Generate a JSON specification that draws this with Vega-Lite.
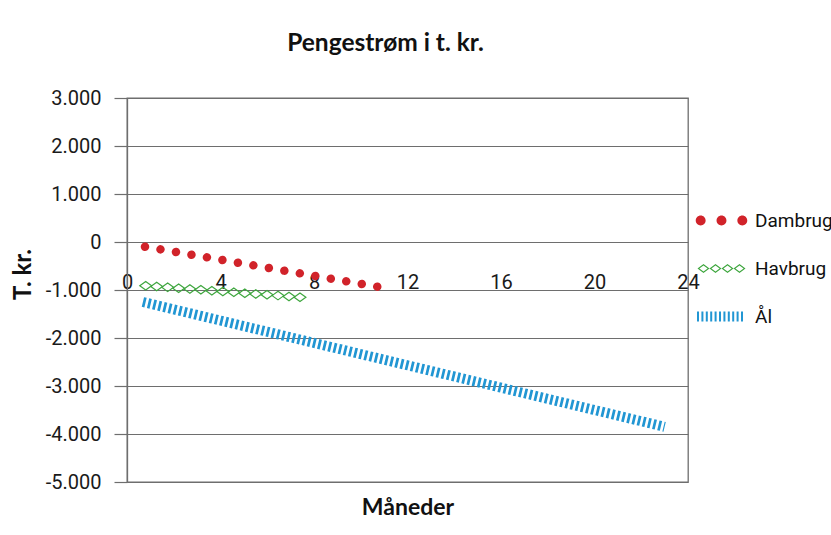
{
  "$schema": "https://vega.github.io/schema/vega-lite/v6.json",
  "width": 561,
  "height": 384,
  "autosize": {"type": "none"},
  "padding": {"left": 127, "top": 98, "right": 143, "bottom": 53},
  "background": "white",
  "title": {"text": "Pengestrøm i t. kr.", "font": "Lato", "fontSize": 24.5, "fontWeight": "bold", "color": "#111111", "anchor": "middle", "dx": -22, "offset": 13, "baseline": "alphabetic"},
  "config": {
    "view": {"stroke": "#6e6e6e", "strokeWidth": 1.3},
    "axis": {"labelFont": "Roboto", "labelFontSize": 20, "labelColor": "#1a1a1a", "titleFont": "Lato", "titleFontWeight": "bold", "titleFontSize": 22, "titleColor": "#111111"}
  },
  "datasets": {
    "aal": [
      {"series": "Ål", "month": 0.68, "value": -1250},
      {"series": "Ål", "month": 23.0, "value": -3850}
    ],
    "dambrug": [
      {"series": "Dambrug", "month": 0.77, "value": -98},
      {"series": "Dambrug", "month": 10.71, "value": -931}
    ],
    "havbrug": [
      {"series": "Havbrug", "month": 0.80, "value": -910},
      {"series": "Havbrug", "month": 1.27, "value": -927},
      {"series": "Havbrug", "month": 1.74, "value": -945},
      {"series": "Havbrug", "month": 2.21, "value": -962},
      {"series": "Havbrug", "month": 2.69, "value": -979},
      {"series": "Havbrug", "month": 3.16, "value": -996},
      {"series": "Havbrug", "month": 3.63, "value": -1014},
      {"series": "Havbrug", "month": 4.10, "value": -1031},
      {"series": "Havbrug", "month": 4.57, "value": -1048},
      {"series": "Havbrug", "month": 5.04, "value": -1066},
      {"series": "Havbrug", "month": 5.51, "value": -1083},
      {"series": "Havbrug", "month": 5.99, "value": -1100},
      {"series": "Havbrug", "month": 6.46, "value": -1117},
      {"series": "Havbrug", "month": 6.93, "value": -1135},
      {"series": "Havbrug", "month": 7.40, "value": -1152}
    ],
    "legendrows": []
  },
  "resolve": {"axis": {"x": "independent"}},
  "encoding": {
    "y": {"field": "value", "type": "quantitative", "scale": {"domain": [-5000, 3000], "nice": false, "zero": false},
      "axis": {"values": [-5000, -4000, -3000, -2000, -1000, 0, 1000, 2000, 3000], "grid": true, "gridColor": "#6e6e6e", "gridWidth": 1.2, "domain": true, "domainColor": "#6e6e6e", "domainWidth": 1.3, "ticks": true, "tickSize": 13, "tickColor": "#6e6e6e", "tickWidth": 1.2, "labelPadding": 13, "labelOverlap": false, "labelExpr": "replace(replace(format(datum.value, ','), ',', '.'), '\u2212', '-')", "title": "T. kr.", "titleFontSize": 24, "titleX": -104, "titleY": 176, "titleBaseline": "middle", "titleAngle": -90}}
  },
  "layer": [
    {
      "data": {"name": "aal"},
      "mark": {"type": "line", "color": "#2196d3", "strokeWidth": 10, "strokeDash": [2.7, 2.6], "strokeCap": "butt"},
      "encoding": {
        "x": {"field": "month", "type": "quantitative", "scale": {"domain": [0, 24], "nice": false, "zero": false},
          "axis": {"orient": "top", "offset": -190, "values": [0, 4, 8, 12, 16, 20, 24], "domain": false, "ticks": false, "tickSize": 0, "grid": false, "labelPadding": 0, "labelBaseline": "alphabetic", "labelDx": -7, "labelFlush": false, "labelOverlap": false, "title": null}}
      }
    },
    {
      "data": {"name": "dambrug"},
      "mark": {"type": "line", "color": "#d1232a", "strokeWidth": 8.5, "strokeDash": [0.01, 15.7], "strokeCap": "round"},
      "encoding": {
        "x": {"field": "month", "type": "quantitative", "axis": null}
      }
    },
    {
      "data": {"name": "havbrug"},
      "mark": {"type": "point", "shape": "M-1,0L0,-0.72L1,0L0,0.72Z", "size": 140, "filled": false, "color": "#3ea63e", "strokeWidth": 1.2, "opacity": 1},
      "encoding": {
        "x": {"field": "month", "type": "quantitative",
          "axis": {"orient": "bottom", "labels": false, "ticks": false, "domain": false, "grid": false, "title": "Måneder", "titleFontSize": 23, "titlePadding": 32, "titleBaseline": "alphabetic"}}
      }
    },
    {
      "data": {"name": "legendrows"},
      "mark": {"type": "point", "filled": true, "strokeWidth": 0, "opacity": 1},
      "encoding": {
        "color": {"field": "series", "type": "nominal",
          "scale": {"domain": ["Dambrug", "Havbrug", "Ål"], "range": ["#d1232a", "#3ea63e", "#2196d3"]},
          "legend": {"orient": "none", "legendX": 572, "legendY": 100, "title": null, "symbolSize": 2025, "symbolStrokeWidth": 0, "labelFont": "Roboto", "labelFontSize": 19, "labelColor": "#111111", "labelOffset": 11, "rowPadding": 15, "padding": 0, "labelLimit": 300, "symbolOpacity": 1}},
        "shape": {"field": "series", "type": "nominal",
          "scale": {"domain": ["Dambrug", "Havbrug", "Ål"], "range": [
            "M-1.145,0a0.22,0.22 0 1,0 0.44,0a0.22,0.22 0 1,0 -0.44,0ZM-0.22,0a0.22,0.22 0 1,0 0.44,0a0.22,0.22 0 1,0 -0.44,0ZM0.705,0a0.22,0.22 0 1,0 0.44,0a0.22,0.22 0 1,0 -0.44,0Z",
            "M-1.067,0L-0.8,-0.2L-0.533,0L-0.8,0.2ZM-0.984,0L-0.8,0.1375L-0.616,0L-0.8,-0.1375ZM-0.534,0L-0.267,-0.2L0,0L-0.267,0.2ZM-0.451,0L-0.267,0.1375L-0.083,0L-0.267,-0.1375ZM0,0L0.267,-0.2L0.534,0L0.267,0.2ZM0.083,0L0.267,0.1375L0.451,0L0.267,-0.1375ZM0.533,0L0.8,-0.2L1.067,0L0.8,0.2ZM0.616,0L0.8,0.1375L0.984,0L0.8,-0.1375Z",
            "M-1.089,-0.222h0.089v0.444h-0.089ZM-0.893,-0.222h0.089v0.444h-0.089ZM-0.698,-0.222h0.089v0.444h-0.089ZM-0.502,-0.222h0.089v0.444h-0.089ZM-0.307,-0.222h0.089v0.444h-0.089ZM-0.111,-0.222h0.089v0.444h-0.089ZM0.085,-0.222h0.089v0.444h-0.089ZM0.28,-0.222h0.089v0.444h-0.089ZM0.476,-0.222h0.089v0.444h-0.089ZM0.671,-0.222h0.089v0.444h-0.089ZM0.867,-0.222h0.089v0.444h-0.089Z"
          ]},
          "legend": {"orient": "none", "legendX": 572, "legendY": 100, "title": null, "symbolSize": 2025, "symbolStrokeWidth": 0, "labelFont": "Roboto", "labelFontSize": 19, "labelColor": "#111111", "labelOffset": 11, "rowPadding": 15, "padding": 0, "labelLimit": 300, "symbolOpacity": 1}}
      }
    }
  ]
}
